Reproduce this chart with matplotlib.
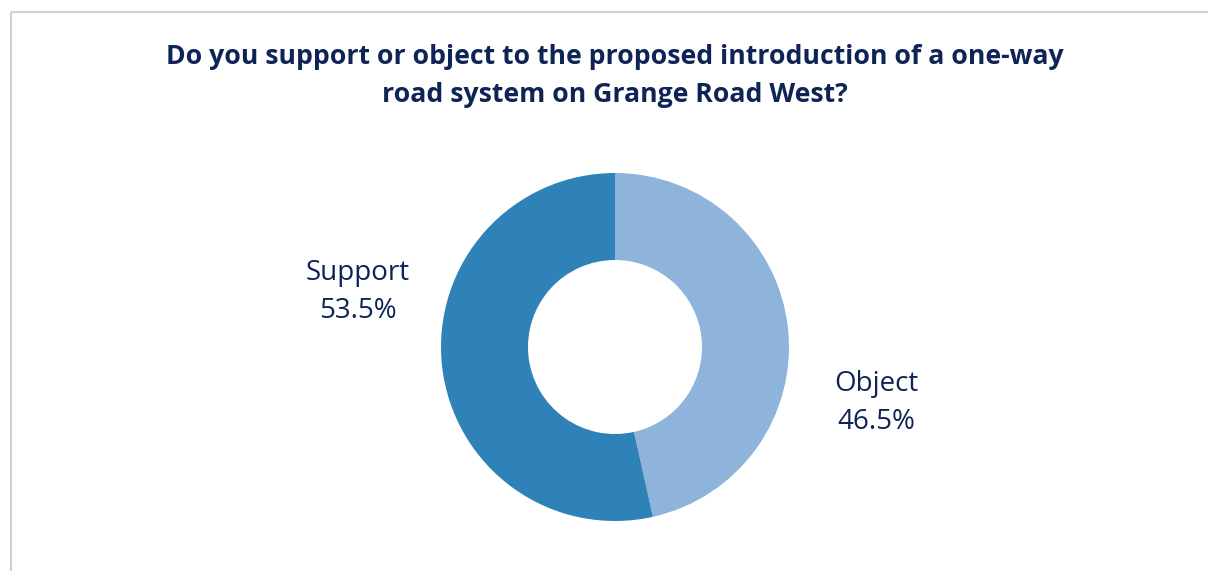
import matplotlib
matplotlib.use("Agg")
import matplotlib.pyplot as plt
from matplotlib.lines import Line2D

# Survey responses
categories = ["Object", "Support"]
shares = [46.5, 53.5]
colors = ["#8EB4DC", "#2E82B8"]
title = "Do you support or object to the proposed introduction of a one-way\nroad system on Grange Road West?"

W, H = 1208, 571
fig = plt.figure(figsize=(W / 100, H / 100), dpi=100)
ax = fig.add_axes([0, 0, 1, 1])

# Chart-area frame (top and left edges visible)
frame_kw = dict(color="#D0D0D0", lw=1.5, solid_capstyle="butt")
ax.add_line(Line2D([10.5, W], [H - 12, H - 12], **frame_kw))
ax.add_line(Line2D([10.5, 10.5], [0, H - 12], **frame_kw))

cx, cy, r = 615, H - 347, 174
ax.pie(shares, colors=colors, startangle=90, counterclock=False,
       center=(cx, cy), radius=r, frame=True,
       wedgeprops=dict(width=r * 0.5, linewidth=0))
ax.set_xlim(0, W)
ax.set_ylim(0, H)
ax.set_aspect("equal")
ax.axis("off")

navy = "#0E2457"
ax.text(615, H - 76, title, ha="center", va="center", fontsize=19.2,
        fontweight="bold", color=navy, family="Open Sans", linespacing=1.6)

label_pos = {"Support": (358, H - 292), "Object": (876, H - 403)}
for cat, val in zip(categories, shares):
    x, y = label_pos[cat]
    ax.text(x, y, f"{cat}\n{val:.1f}%", ha="center", va="center",
            fontsize=20, color=navy, family="Open Sans", linespacing=1.48)

fig.savefig("out.png", dpi=100, facecolor="white")
